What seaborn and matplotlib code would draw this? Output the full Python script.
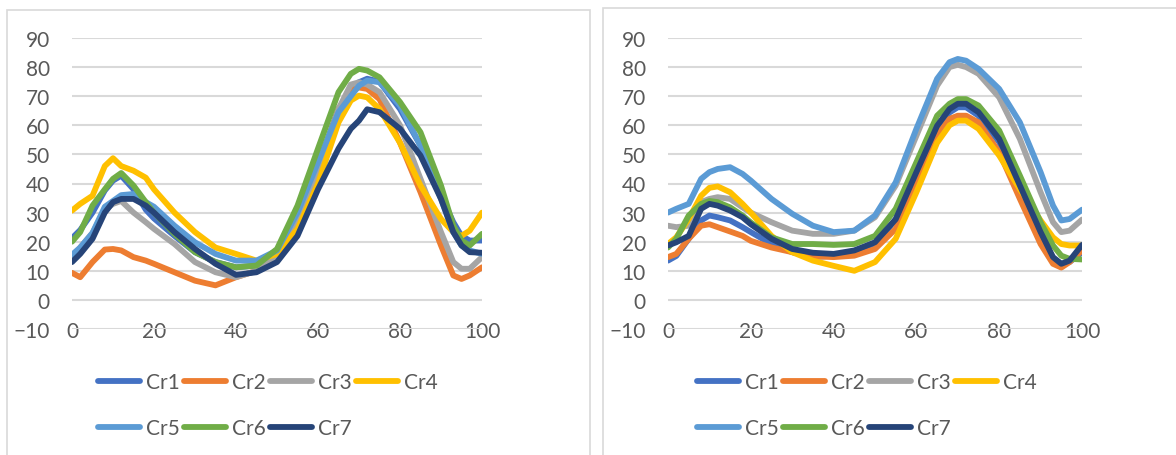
import pandas as pd
import numpy as np
import matplotlib
matplotlib.use("Agg")
import matplotlib.pyplot as plt
import seaborn as sns
from matplotlib.patches import Rectangle

# percent of cycle (shared x for every series)
x = [0, 2, 5, 8, 10, 12, 15, 18, 20, 25, 30, 35, 40, 45, 50, 55, 60,
     65, 68, 70, 72, 75, 80, 85, 90, 93, 95, 97, 100]

names = ["Cr1", "Cr2", "Cr3", "Cr4", "Cr5", "Cr6", "Cr7"]
colors = ["#4472C4", "#ED7D31", "#A5A5A5", "#FFC000", "#5B9BD5", "#70AD47", "#264478"]

# left chart
cr1_a = [21.2, 24, 30, 37.6, 41, 42.7, 38, 31, 28, 22, 16.4, 13, 11.2, 11.8, 16.4, 29, 46, 65.6, 72, 74.8, 76, 75, 65.6, 53, 36, 26.7, 22, 20.4, 20.4]
cr2_a = [9.3, 7.8, 13, 17.3, 17.5, 17, 14.7, 13.5, 12.4, 9.5, 6.6, 5, 7.8, 10, 15.5, 26.7, 44, 65.6, 72, 73, 72.5, 69, 54, 37, 18.7, 8.4, 7.2, 8.4, 11.2]
cr3_a = [14, 18, 23, 31, 33, 34, 30, 26.7, 24.4, 19.2, 13, 9.5, 7.8, 10, 15.2, 26.7, 44, 65.6, 74, 74.8, 74, 71.4, 60, 41.6, 23.3, 13, 10.7, 10.7, 14.7]
cr4_a = [30.7, 33, 35.8, 46, 48.7, 46, 44.4, 42, 38, 30, 23.3, 18, 15.8, 13.5, 15.8, 24.4, 40, 61, 68.5, 70.2, 69.6, 65.6, 54, 39.3, 27.8, 23.3, 22, 23.8, 30]
cr5_a = [15.5, 18, 23, 32, 34, 36, 36.4, 33.6, 32, 25.5, 19.8, 15.8, 13.5, 13.5, 17, 30, 47.3, 64.5, 70, 73.6, 75.4, 74.8, 66.8, 53, 34.7, 23.3, 18.7, 17, 15.8]
cr6_a = [20, 23.3, 32.4, 38, 41.6, 43.6, 39.3, 33.6, 30, 22.7, 16.4, 13, 11.2, 11.8, 17.5, 32.4, 52, 71.4, 77.7, 79.4, 78.8, 76.5, 68, 57.6, 39.3, 25.5, 20.4, 18.7, 22.7]
cr7_a = [13, 15.8, 21, 30, 33.6, 34.7, 34.7, 32.4, 30, 23.3, 17.5, 12.4, 8.6, 9.5, 13, 22, 38, 52, 58.8, 61.6, 65.5, 64.5, 58.8, 49.6, 34.7, 23.3, 18.7, 16.4, 16.2]

# right chart
cr1_b = [13.5, 15.1, 21, 27.3, 29, 28.4, 27.3, 25, 23.3, 19.2, 16.4, 14.7, 15.2, 15.8, 18.7, 27.7, 43.9, 59.3, 64.4, 66.2, 66.2, 63.3, 54.2, 38, 22, 14.1, 12.4, 13, 16.4]
cr2_b = [14.7, 15.8, 21, 25.5, 26, 25, 23.5, 22, 20.3, 18, 16.4, 15, 14.7, 15.2, 17.5, 24.4, 40, 56.5, 62.2, 63.3, 63.3, 61, 50.7, 34.7, 19.2, 12.4, 11.1, 13, 17]
cr3_b = [25.5, 25, 25.5, 33.6, 34.7, 35.3, 34.7, 31.8, 30, 26.7, 23.8, 22.7, 22.7, 23.8, 28.4, 39.3, 56.4, 73.6, 80, 80.8, 80, 77.7, 69.6, 55.3, 37, 26.7, 23.3, 23.8, 27.6]
cr4_b = [19.2, 21.5, 27.8, 35.8, 38.5, 39, 37, 33, 30, 22, 16.4, 13.5, 11.7, 10, 13, 21, 37, 54, 60, 61.6, 61.6, 58.8, 49.6, 38, 27.3, 21.5, 19.2, 18.7, 18.7]
cr5_b = [30, 31.3, 33, 41.6, 43.9, 45, 45.6, 43.3, 41, 34.7, 29.6, 25.5, 23.3, 23.8, 29, 40.4, 58.8, 76, 81.7, 82.8, 82.2, 79.4, 72.5, 61, 43.9, 32.4, 27.3, 27.8, 31]
cr6_b = [18, 21, 29, 33, 34, 33.6, 31.8, 29, 26.6, 21.5, 19.2, 19.2, 18.9, 19.2, 22, 31.3, 47.3, 63.3, 67.4, 69, 69, 66.8, 58.2, 42.7, 26.7, 18.7, 15.2, 14.1, 13.9]
cr7_b = [18.7, 19.8, 22, 31.3, 33, 32.4, 30.7, 28.4, 26, 21, 17.5, 16.2, 15.8, 17, 19.8, 27.7, 43.9, 59.8, 65.6, 67.4, 67.4, 64.5, 55.3, 39.3, 23.3, 14.7, 12.4, 13.5, 18.9]

left = [cr1_a, cr2_a, cr3_a, cr4_a, cr5_a, cr6_a, cr7_a]
right = [cr1_b, cr2_b, cr3_b, cr4_b, cr5_b, cr6_b, cr7_b]


def to_long(series):
    frames = [pd.DataFrame({"x": x, "y": vals, "name": n}) for n, vals in zip(names, series)]
    return pd.concat(frames, ignore_index=True)


sns.set_style("white")
plt.rcParams["font.family"] = ["Lato", "DejaVu Sans"]
text_col = "#595959"

fig = plt.figure(figsize=(11.76, 4.56), dpi=100)

# chart area borders
fig.patches.append(Rectangle((7 / 1176, -0.1), 583 / 1176, 1.1 - 11 / 456, transform=fig.transFigure,
                             fill=False, edgecolor="#d9d9d9", lw=1.2))
fig.patches.append(Rectangle((603 / 1176, -0.1), 0.6, 1.1 - 9 / 456, transform=fig.transFigure,
                             fill=False, edgecolor="#d9d9d9", lw=1.2))

ax1 = fig.add_axes([72 / 1176, 126 / 456, 410 / 1176, 291 / 456])
ax2 = fig.add_axes([668 / 1176, 126 / 456, 414 / 1176, 291 / 456])

# legend is filled row by row in the reference
leg_order = [0, 4, 1, 5, 2, 6, 3]

for ax, series, lx in [(ax1, left, 268 / 1176), (ax2, right, 867 / 1176)]:
    df = to_long(series)
    sns.lineplot(data=df, x="x", y="y", hue="name", hue_order=names, palette=colors,
                 linewidth=4.2, legend=False, ax=ax, sort=True)
    for ln in ax.get_lines():
        ln.set_solid_capstyle("round")
        ln.set_solid_joinstyle("round")
    ax.set_xlim(0, 100)
    ax.set_ylim(-10, 90)
    ax.set_yticks(np.arange(-10, 91, 10))
    ax.set_xticks(np.arange(0, 101, 20))
    ax.grid(axis="y", color="#d9d9d9", lw=1.5)
    ax.set_axisbelow(True)
    for s in ax.spines.values():
        s.set_visible(False)
    ax.set_xlabel("")
    ax.set_ylabel("")
    ax.tick_params(axis="y", length=0, pad=16, labelsize=15, labelcolor=text_col)
    ax.tick_params(axis="x", length=0, pad=-6, labelsize=15, labelcolor=text_col)
    lines = ax.get_lines()
    ax.legend([lines[i] for i in leg_order], [names[i] for i in leg_order], ncol=4,
              loc="center", bbox_to_anchor=(lx, 50 / 456),
              bbox_transform=fig.transFigure, frameon=False, fontsize=15,
              handlelength=2.0, handletextpad=0.3, columnspacing=0.2, labelspacing=1.25,
              borderpad=0.2, labelcolor=text_col)

fig.savefig("out.png", dpi=100)
